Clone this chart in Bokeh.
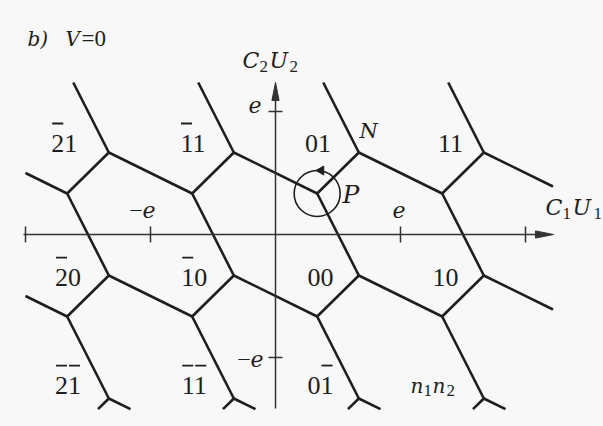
import math
from bokeh.plotting import figure
from bokeh.models import ColumnDataSource
from bokeh.core.properties import value
from bokeh.embed import file_html
from bokeh.resources import INLINE

# ---------------- data (units of e) ----------------
# honeycomb: triple points of the double-dot stability diagram
n_cells = list(range(-3, 3))
m_cells = list(range(-3, 2))
A_OFFSET = (2 / 3, 2 / 3)   # triple point type A inside cell (n, m)
B_OFFSET = (1 / 3, 1 / 3)   # triple point type B inside cell (n, m)
CLIP = (-2.0, 2.22, -1.42, 1.236)  # drawn region: xmin, xmax, ymin, ymax

# charge states n1 n2 labelled in the cells
cell_n1 = [-2, -1, 0, 1, -2, -1, 0, 1, -2, -1, 0]
cell_n2 = [1, 1, 1, 1, 0, 0, 0, 0, -1, -1, -1]
label_x = [-1.69, -0.66, 0.34, 1.40,
           -1.66, -0.65, 0.36, 1.36,
           -1.66, -0.65, 0.36]
label_y = [0.675, 0.675, 0.675, 0.675,
           -0.415, -0.415, -0.415, -0.415,
           -1.293, -1.293, -1.293]

h_ticks = [-2, -1, 1, 2]
v_ticks = [1, -1]
x_axis_span = (-2.016, 2.224)
y_axis_span = (-1.415, 1.236)
P_point = (1 / 3, 1 / 3)

# ---------------- figure ----------------
SX, SY = 125.0, 123.0   # px per e
W, H = 603, 426
x0_px, y0_px = 275.0, 234.0  # origin within frame
TEXT_SHIFT = -8  # px correction of text baseline
p = figure(width=W, height=H, output_backend="svg", toolbar_location=None,
           x_range=(-x0_px / SX, (W - x0_px) / SX),
           y_range=(-(H - y0_px) / SY, y0_px / SY),
           x_axis_type=None, y_axis_type=None, min_border=0)
p.grid.visible = False
p.outline_line_color = None
p.background_fill_color = "#f8f8f8"
p.border_fill_color = "#f8f8f8"

xmin, xmax, ymin, ymax = CLIP


def clip(xa, ya, xb, yb):
    dx, dy = xb - xa, yb - ya
    t0, t1 = 0.0, 1.0
    for pp, qq in ((-dx, xa - xmin), (dx, xmax - xa), (-dy, ya - ymin), (dy, ymax - ya)):
        if pp == 0:
            if qq < 0:
                return None
        else:
            t = qq / pp
            if pp < 0:
                t0 = max(t0, t)
            else:
                t1 = min(t1, t)
    if t1 - t0 <= 1e-9:
        return None
    return (xa + t0 * dx, ya + t0 * dy, xa + t1 * dx, ya + t1 * dy)


sx0, sy0, sx1, sy1 = [], [], [], []
for n in n_cells:
    for m in m_cells:
        ax, ay = n + A_OFFSET[0], m + A_OFFSET[1]
        for (bn, bm) in ((n, m), (n + 1, m), (n, m + 1)):
            bx, by = bn + B_OFFSET[0], bm + B_OFFSET[1]
            c = clip(ax, ay, bx, by)
            if c:
                sx0.append(c[0]); sy0.append(c[1]); sx1.append(c[2]); sy1.append(c[3])

INK = "#1e1e1e"
p.segment(x0=sx0, y0=sy0, x1=sx1, y1=sy1, line_color=INK, line_width=2.6)

AX_COL = "#333333"
# axes
p.segment(x0=[x_axis_span[0], 0], y0=[0, y_axis_span[0]],
          x1=[x_axis_span[1] - 10 / SX, 0], y1=[0, y_axis_span[1] - 10 / SY],
          line_color=AX_COL, line_width=1.5)
hl, hw = 18.0, 3.6
p.patch(x=[x_axis_span[1], x_axis_span[1] - hl / SX, x_axis_span[1] - hl / SX],
        y=[0, hw / SY, -hw / SY], fill_color=AX_COL, line_color=AX_COL, line_width=1)
p.patch(x=[0, hw / SX, -hw / SX],
        y=[y_axis_span[1], y_axis_span[1] - hl / SY, y_axis_span[1] - hl / SY],
        fill_color=AX_COL, line_color=AX_COL, line_width=1)
# ticks
p.scatter(x=h_ticks, y=[0] * len(h_ticks), marker="dash", size=16, angle=math.pi / 2,
          line_color=AX_COL, line_width=1.5)
p.scatter(x=[0] * len(v_ticks), y=v_ticks, marker="dash", size=14,
          line_color=AX_COL, line_width=1.5)

# circle around P with arrow
p.scatter(x=[P_point[0]], y=[P_point[1]], marker="circle", size=46,
          fill_alpha=0, line_color=INK, line_width=1.6)
p.scatter(x=[P_point[0] + 4 / SX], y=[P_point[1] + 23 / SY], marker="triangle", size=9,
          angle=math.pi / 2, fill_color=INK, line_color=INK)

ITAL = value("DejaVu Serif")
DIG = value("Liberation Serif")

# cell labels: digits plus overbars for negative numbers
cell_text = [f"{abs(a)}{abs(b)}" for a, b in zip(cell_n1, cell_n2)]
src = ColumnDataSource(dict(x=label_x, y=label_y, t=cell_text))
p.text(x="x", y="y", text="t", source=src, text_font=DIG, text_font_size="26px",
       y_offset=TEXT_SHIFT,
       text_align="center", text_baseline="alphabetic", text_color=INK)
bar_x, bar_y = [], []
for a, b, lx, ly in zip(cell_n1, cell_n2, label_x, label_y):
    if a < 0:
        bar_x.append(lx - 6.5 / SX); bar_y.append(ly + 28 / SY)
    if b < 0:
        bar_x.append(lx + 6.5 / SX); bar_y.append(ly + 28 / SY)
p.scatter(x=bar_x, y=bar_y, marker="dash", size=11, line_color=INK, line_width=1.8)


def px2x(px):
    return (px - x0_px) / SX


def px2y(py):
    return (y0_px - py) / SY


def compose(left_px, base_px, parts):
    for s, dx, dy, font, size, style in parts:
        p.text(x=[px2x(left_px)], y=[px2y(base_px)], text=[s], x_offset=dx,
               y_offset=dy + TEXT_SHIFT,
               text_font=font, text_font_size=size, text_font_style=style,
               text_align="left", text_baseline="alphabetic", text_color=INK)


# title
compose(27, 46, [("b)", 0, 0, ITAL, "20px", "italic"),
                 ("V", 38, 0, ITAL, "20px", "italic"),
                 ("=0", 54, 0, DIG, "23px", "normal")])
# axis labels
compose(242, 68, [("C", 0, 0, ITAL, "22px", "italic"),
                  ("2", 17, 6, DIG, "17px", "normal"),
                  ("U", 27, 0, ITAL, "22px", "italic"),
                  ("2", 47, 6, DIG, "17px", "normal")])
compose(545, 215, [("C", 0, 0, ITAL, "22px", "italic"),
                   ("1", 17, 6, DIG, "17px", "normal"),
                   ("U", 27, 0, ITAL, "22px", "italic"),
                   ("1", 48, 6, DIG, "17px", "normal")])
compose(410, 393, [("n", 0, 0, ITAL, "20px", "italic"),
                   ("1", 13, 5, DIG, "17px", "normal"),
                   ("n", 22, 0, ITAL, "20px", "italic"),
                   ("2", 36, 5, DIG, "17px", "normal")])
# tick labels
compose(248, 112, [("e", 0, 0, ITAL, "22px", "italic")])
compose(238, 366, [("\u2013", 0, -1, DIG, "22px", "normal"), ("e", 12, 0, ITAL, "22px", "italic")])
compose(130, 217, [("\u2013", 0, -1, DIG, "22px", "normal"), ("e", 12, 0, ITAL, "22px", "italic")])
compose(392, 217, [("e", 0, 0, ITAL, "22px", "italic")])
# points
compose(342, 202, [("P", 0, 0, ITAL, "25px", "italic")])
compose(359, 138, [("N", 0, 0, ITAL, "21px", "italic")])

open("out.html", "w").write(file_html(p, INLINE))
